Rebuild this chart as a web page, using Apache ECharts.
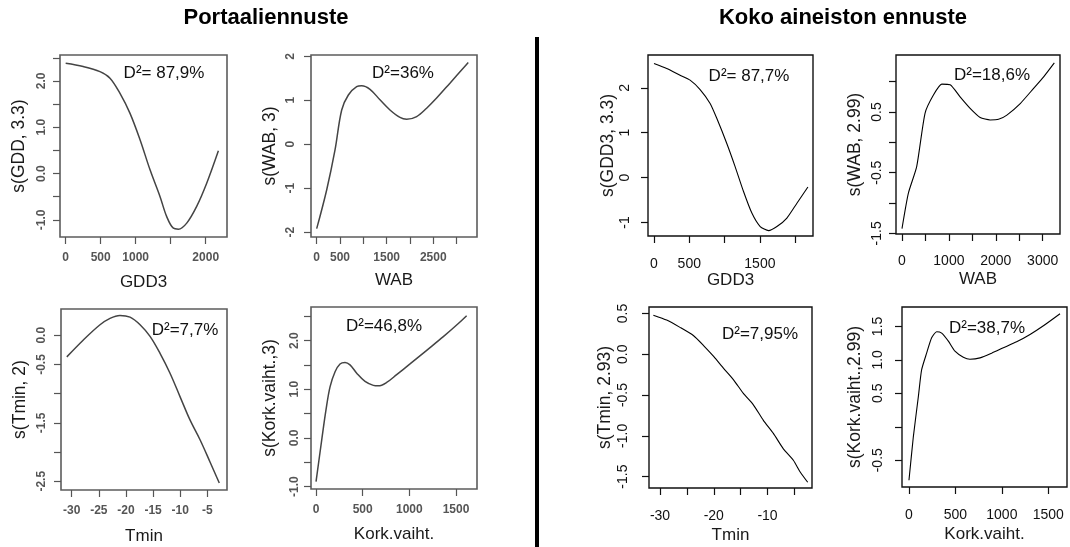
<!DOCTYPE html>
<html>
<head>
<meta charset="utf-8">
<script src="https://cdn.jsdelivr.net/npm/echarts@6/dist/echarts.min.js"></script>
<style>
  html, body { margin: 0; padding: 0; background: #fff; }
  #chart { width: 1070px; height: 547px; }
</style>
</head>
<body>
<div id="chart"></div>
<script>
// ---- Portaaliennuste: smooth terms ----
var gddX = [0, 250, 490, 633, 776, 919, 1062, 1205, 1348, 1443, 1538, 1610, 1729, 1871, 2014, 2181];
var gddY = [2.38, 2.31, 2.20, 2.06, 1.73, 1.30, 0.73, 0.08, -0.50, -0.93, -1.18, -1.20, -1.07, -0.71, -0.21, 0.49];

var wabX = [0, 214, 393, 536, 679, 857, 964, 1143, 1357, 1571, 1786, 1929, 2143, 2357, 2571, 2857, 3250];
var wabY = [-1.92, -1.04, -0.13, 0.78, 1.12, 1.31, 1.33, 1.25, 1.01, 0.78, 0.61, 0.57, 0.63, 0.82, 1.05, 1.39, 1.86];

var tminX = [-30.9, -27.85, -24.78, -22.94, -21.1, -19.25, -17.4, -15.56, -13.72, -11.88, -10.04, -8.2, -6.35, -4.51, -2.8];
var tminY = [-0.37, -0.08, 0.18, 0.29, 0.34, 0.31, 0.18, -0.02, -0.31, -0.65, -1.05, -1.45, -1.79, -2.17, -2.53];

var korkX = [0, 61, 107, 150, 204, 257, 311, 364, 436, 525, 614, 668, 757, 864, 1007, 1186, 1364, 1525, 1614];
var korkY = [-0.90, -0.04, 0.58, 1.05, 1.36, 1.52, 1.55, 1.50, 1.33, 1.16, 1.08, 1.07, 1.14, 1.30, 1.52, 1.80, 2.08, 2.35, 2.51];

// ---- Koko aineiston ennuste: smooth terms ----
var gdd2X = [0, 180, 369, 511, 653, 795, 889, 1031, 1150, 1268, 1386, 1504, 1622, 1741, 1882, 2024, 2180];
var gdd2Y = [2.54, 2.43, 2.28, 2.17, 1.96, 1.65, 1.32, 0.76, 0.24, -0.31, -0.79, -1.09, -1.18, -1.09, -0.90, -0.57, -0.21];

var wab2X = [0, 135, 313, 491, 670, 848, 1026, 1239, 1453, 1667, 1880, 2058, 2236, 2521, 2806, 3020, 3248];
var wab2Y = [-1.42, -0.84, -0.40, 0.48, 0.78, 0.96, 0.95, 0.75, 0.56, 0.41, 0.37, 0.38, 0.45, 0.64, 0.89, 1.08, 1.31];

var tmin2X = [-31.24, -28.76, -26.28, -23.80, -21.94, -19.98, -18.21, -16.35, -14.49, -12.63, -10.77, -8.91, -7.05, -5.19, -3.95, -2.52];
var tmin2Y = [0.48, 0.42, 0.33, 0.23, 0.11, -0.03, -0.17, -0.31, -0.48, -0.62, -0.81, -0.97, -1.16, -1.30, -1.44, -1.57];

var kork2X = [0, 47, 101, 136, 190, 244, 298, 352, 424, 495, 585, 657, 765, 890, 1016, 1159, 1303, 1447, 1626];
var kork2Y = [-0.80, -0.15, 0.45, 0.85, 1.10, 1.33, 1.42, 1.40, 1.28, 1.13, 1.04, 1.01, 1.03, 1.10, 1.18, 1.27, 1.38, 1.51, 1.69];

// ---- tick positions and labelled ticks ----
var gddXTicks = [0, 500, 1000, 1500, 2000];       var gddXLabels = [0, 500, 1000, 2000];
var gddYTicks = [-1, -0.5, 0, 0.5, 1, 1.5, 2, 2.5]; var gddYLabels = [-1, 0, 1, 2];
var wabXTicks = [0, 500, 1000, 1500, 2000, 2500, 3000]; var wabXLabels = [0, 500, 1500, 2500];
var wabYTicks = [-2, -1, 0, 1, 2];                 var wabYLabels = [-2, -1, 0, 1, 2];
var tminXTicks = [-30, -25, -20, -15, -10, -5];    var tminXLabels = [-30, -25, -20, -15, -10, -5];
var tminYTicks = [-2.5, -2, -1.5, -1, -0.5, 0];    var tminYLabels = [-2.5, -1.5, -0.5, 0];
var korkXTicks = [0, 500, 1000, 1500];             var korkXLabels = [0, 500, 1000, 1500];
var korkYTicks = [-1, -0.5, 0, 0.5, 1, 1.5, 2, 2.5]; var korkYLabels = [-1, 0, 1, 2];

var gdd2XTicks = [0, 500, 1000, 1500, 2000];       var gdd2XLabels = [0, 500, 1500];
var gdd2YTicks = [-1, 0, 1, 2];                    var gdd2YLabels = [-1, 0, 1, 2];
var wab2XTicks = [0, 500, 1000, 1500, 2000, 2500, 3000]; var wab2XLabels = [0, 1000, 2000, 3000];
var wab2YTicks = [-1.5, -1, -0.5, 0, 0.5, 1];      var wab2YLabels = [-1.5, -0.5, 0.5];
var tmin2XTicks = [-30, -25, -20, -15, -10, -5];   var tmin2XLabels = [-30, -20, -10];
var tmin2YTicks = [-1.5, -1, -0.5, 0, 0.5];        var tmin2YLabels = [-1.5, -1, -0.5, 0, 0.5];
var kork2XTicks = [0, 500, 1000, 1500];            var kork2XLabels = [0, 500, 1000, 1500];
var kork2YTicks = [-0.5, 0, 0.5, 1, 1.5];          var kork2YLabels = [-0.5, 0.5, 1, 1.5];

// ---- annotations ----
var devianceTexts = ['D²= 87,9%', 'D²=36%', 'D²=7,7%', 'D²=46,8%', 'D²= 87,7%', 'D²=18,6%', 'D²=7,95%', 'D²=38,7%'];
var headings = ['Portaaliennuste', 'Koko aineiston ennuste'];

// ---- panel layout ----
var LEFT = { line: '#444', box: '#5c5c5c', tick: '#555', label: '#555', labelSize: 12, labelWeight: 'bold', lineWidth: 1.5, boxWidth: 1.6 };
var RIGHT = { line: '#000', box: '#111', tick: '#111', label: '#111', labelSize: 14, labelWeight: 'normal', lineWidth: 1.1, boxWidth: 1.4 };

var panels = [
  { x: gddX, y: gddY, grid: [60, 55, 167, 182], xr: [-81, 2304], yr: [-1.37, 2.56], xt: gddXTicks, xl: gddXLabels, yt: gddYTicks, yl: gddYLabels, yd: 1, xName: 'GDD3', yName: 's(GDD, 3.3)', s: LEFT, xm: 15, xg: 37, ym: 12, yg: 32, ann: [164, 73] },
  { x: wabX, y: wabY, grid: [311, 55, 166, 182], xr: [-122, 3437], yr: [-2.11, 2.03], xt: wabXTicks, xl: wabXLabels, yt: wabYTicks, yl: wabYLabels, yd: 0, xName: 'WAB', yName: 's(WAB, 3)', s: LEFT, xm: 15, xg: 35, ym: 14, yg: 32, ann: [403, 73] },
  { x: tminX, y: tminY, grid: [61, 309, 166, 181], xr: [-31.97, -1.38], yr: [-2.65, 0.45], xt: tminXTicks, xl: tminXLabels, yt: tminYTicks, yl: tminYLabels, yd: 1, xName: 'Tmin', yName: 's(Tmin, 2)', s: LEFT, xm: 15, xg: 38, ym: 13, yg: 32, ann: [185, 330] },
  { x: korkX, y: korkY, grid: [311, 307, 166, 182], xr: [-54, 1725], yr: [-1.05, 2.69], xt: korkXTicks, xl: korkXLabels, yt: korkYTicks, yl: korkYLabels, yd: 1, xName: 'Kork.vaiht.', yName: 's(Kork.vaiht.,3)', s: LEFT, xm: 15, xg: 37, ym: 10, yg: 32, ann: [384, 326] },
  { x: gdd2X, y: gdd2Y, grid: [648, 55, 165, 181], xr: [-85, 2252], yr: [-1.30, 2.73], xt: gdd2XTicks, xl: gdd2XLabels, yt: gdd2YTicks, yl: gdd2YLabels, yd: 0, xName: 'GDD3', yName: 's(GDD3, 3.3)', s: RIGHT, xm: 21, xg: 34, ym: 16, yg: 26, ann: [749, 76] },
  { x: wab2X, y: wab2Y, grid: [896, 55, 164, 179], xr: [-128, 3369], yr: [-1.51, 1.44], xt: wab2XTicks, xl: wab2XLabels, yt: wab2YTicks, yl: wab2YLabels, yd: 1, xName: 'WAB', yName: 's(WAB, 2.99)', s: RIGHT, xm: 20, xg: 37, ym: 12, yg: 32, ann: [992, 75] },
  { x: tmin2X, y: tmin2Y, grid: [649, 307, 163, 181], xr: [-32.05, -1.72], yr: [-1.64, 0.58], xt: tmin2XTicks, xl: tmin2XLabels, yt: tmin2YTicks, yl: tmin2YLabels, yd: 1, xName: 'Tmin', yName: 's(Tmin, 2.93)', s: RIGHT, xm: 21, xg: 39, ym: 19, yg: 35, ann: [760, 334] },
  { x: kork2X, y: kork2Y, grid: [902, 307, 165, 180], xr: [-75, 1701], yr: [-0.90, 1.79], xt: kork2XTicks, xl: kork2XLabels, yt: kork2YTicks, yl: kork2YLabels, yd: 1, xName: 'Kork.vaiht.', yName: 's(Kork.vaiht.,2.99)', s: RIGHT, xm: 21, xg: 39, ym: 17, yg: 38, ann: [987, 328] }
];

var FONT = '"Liberation Sans", Arial, sans-serif';

function fmt(d) {
  return function (v) { return d > 0 ? Number(v).toFixed(d) : String(Math.round(v)); };
}

var grids = [], xAxes = [], yAxes = [], series = [], graphics = [];

panels.forEach(function (p, i) {
  var st = p.s;
  grids.push({
    left: p.grid[0], top: p.grid[1], width: p.grid[2], height: p.grid[3],
    show: true, borderColor: st.box, borderWidth: st.boxWidth, backgroundColor: 'transparent',
    containLabel: false
  });
  xAxes.push({
    gridIndex: i, type: 'value', min: p.xr[0], max: p.xr[1], position: 'bottom',
    axisLine: { show: false, onZero: false }, splitLine: { show: false },
    axisTick: { show: true, length: 7, inside: false, customValues: p.xt, lineStyle: { color: st.tick, width: 1.2 } },
    axisLabel: { customValues: p.xl, margin: p.xm, fontSize: st.labelSize, fontWeight: st.labelWeight, color: st.label, fontFamily: FONT, formatter: fmt(0) },
    name: p.xName, nameLocation: 'middle', nameGap: p.xg,
    nameTextStyle: { fontSize: 17, color: '#1a1a1a', fontFamily: FONT }
  });
  yAxes.push({
    gridIndex: i, type: 'value', min: p.yr[0], max: p.yr[1], position: 'left',
    axisLine: { show: false, onZero: false }, splitLine: { show: false },
    axisTick: { show: true, length: 7, customValues: p.yt, lineStyle: { color: st.tick, width: 1.2 } },
    axisLabel: { customValues: p.yl, rotate: 90, margin: p.ym, fontSize: st.labelSize, fontWeight: st.labelWeight, color: st.label, fontFamily: FONT, formatter: fmt(p.yd) },
    name: p.yName, nameLocation: 'middle', nameGap: p.yg, nameRotate: 90,
    nameTextStyle: { fontSize: 17.5, color: '#1a1a1a', fontFamily: FONT }
  });
  series.push({
    type: 'line', xAxisIndex: i, yAxisIndex: i,
    data: p.x.map(function (v, k) { return [v, p.y[k]]; }),
    showSymbol: false, smooth: i < 4 ? 0.35 : 0.2,
    lineStyle: { color: st.line, width: st.lineWidth },
    silent: true, animation: false
  });
  graphics.push({
    type: 'text', x: p.ann[0], y: p.ann[1],
    style: { text: devianceTexts[i], font: '17px ' + FONT, fill: '#111', textAlign: 'center', textVerticalAlign: 'middle' }
  });
});

graphics.push({
  type: 'text', x: 266, y: 18,
  style: { text: headings[0], font: 'bold 22px ' + FONT, fill: '#000', textAlign: 'center', textVerticalAlign: 'middle' }
});
graphics.push({
  type: 'text', x: 843, y: 18,
  style: { text: headings[1], font: 'bold 22px ' + FONT, fill: '#000', textAlign: 'center', textVerticalAlign: 'middle' }
});
// vertical separator between the two model sets
graphics.push({
  type: 'line', shape: { x1: 537, y1: 37, x2: 537, y2: 547 },
  style: { stroke: '#000', lineWidth: 4 }
});

var chart = echarts.init(document.getElementById('chart'), null, { renderer: 'canvas' });
chart.setOption({
  animation: false,
  backgroundColor: '#fff',
  grid: grids,
  xAxis: xAxes,
  yAxis: yAxes,
  series: series,
  graphic: graphics
});
</script>
</body>
</html>
